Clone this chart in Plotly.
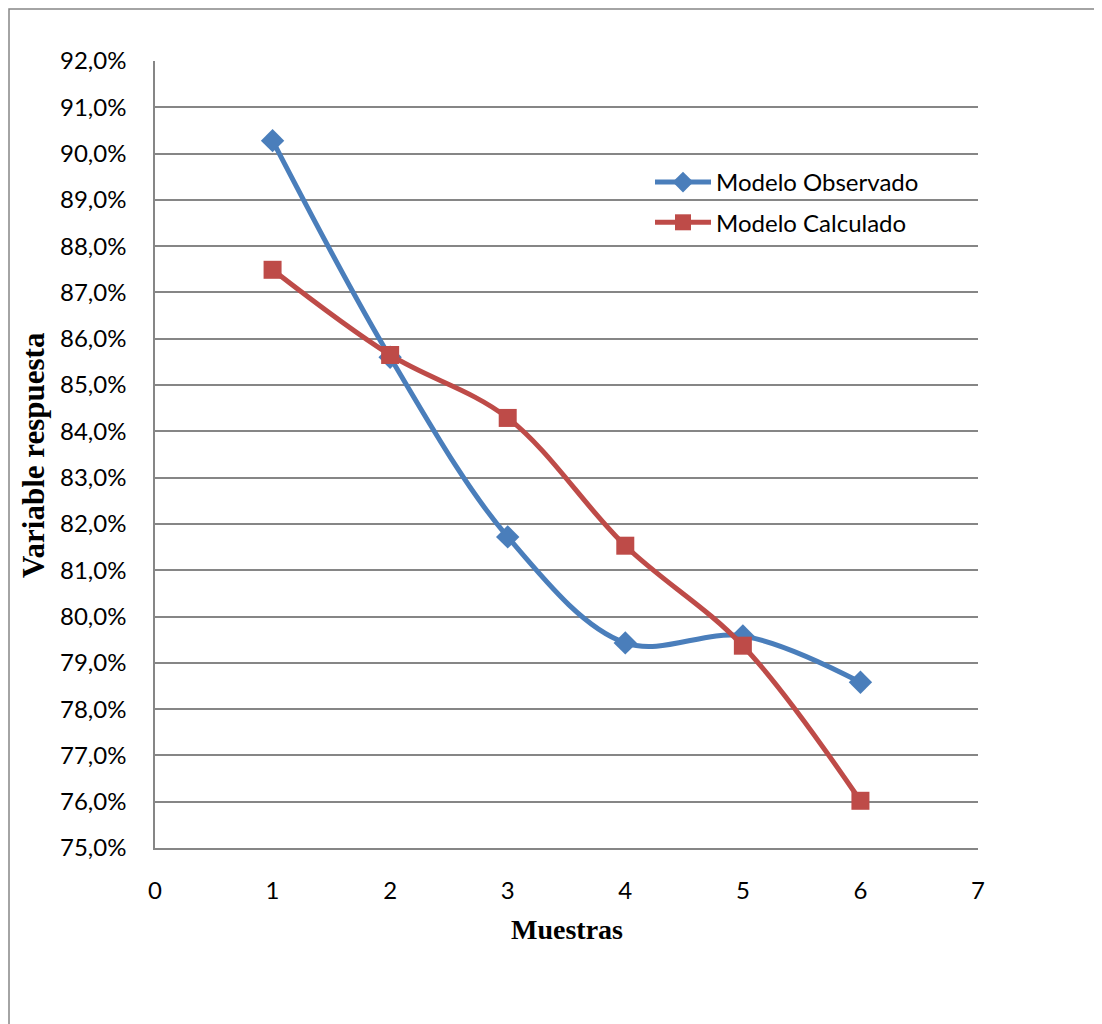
import plotly.graph_objects as go

muestras = [1, 2, 3, 4, 5, 6]
observado = [0.9028, 0.8560, 0.8172, 0.7943, 0.7958, 0.7858]
calculado = [0.8749, 0.8565, 0.8429, 0.8153, 0.7937, 0.7602]
y_ticks = [0.75 + 0.01 * i for i in range(18)]

# page has an 8px body margin; work in figure coordinates
OFF = 8
W, H = 1102 - OFF, 1024 - OFF
L, R, T, B = 155 - OFF, 978 - OFF, 61 - OFF, 848 - OFF

fig = go.Figure()
fig.add_trace(go.Scatter(
    x=muestras, y=observado, name="Modelo Observado", legendgroup="a",
    mode="lines+markers", line=dict(color="#4A7EBB", width=5, shape="spline", smoothing=1.0),
    marker=dict(symbol="diamond", size=18, color="#4A7EBB")))
fig.add_trace(go.Scatter(
    x=muestras, y=calculado, name="Modelo Calculado", legendgroup="b",
    mode="lines+markers", line=dict(color="#BE4B48", width=5, shape="spline", smoothing=1.0),
    marker=dict(symbol="square", size=18, color="#BE4B48")))

pw, ph = R - L, B - T
def px(x):
    return (x - OFF - L) / pw
def py(y):
    return (B - (y - OFF)) / ph

fig.update_layout(
    width=W, height=H,
    margin=dict(l=L, r=W - R, t=T, b=H - B),
    paper_bgcolor="white", plot_bgcolor="white",
    separators=",.",
    font=dict(family="Lato, Open Sans, sans-serif", size=24, color="black"),
    showlegend=True,
    legend=dict(x=px(650), y=py(160), xanchor="left", yanchor="top",
                font=dict(family="Lato, Open Sans, sans-serif", size=24),
                bgcolor="rgba(0,0,0,0)", traceorder="grouped", tracegroupgap=6, itemwidth=56),
    xaxis=dict(range=[0, 7], dtick=1, tick0=0, showgrid=False, zeroline=False,
               showline=True, linecolor="#868686", linewidth=1.5,
               ticks="", tickfont=dict(size=24), ticklabelstandoff=20),
    yaxis=dict(range=[0.75, 0.92], tickvals=y_ticks, tickformat=".1%",
               showgrid=True, gridcolor="#868686", gridwidth=1.5, zeroline=False,
               showline=True, linecolor="#868686", linewidth=1.5,
               ticks="", tickfont=dict(size=24), ticklabelstandoff=22),
    annotations=[
        dict(text="<b>Variable respuesta</b>", xref="paper", yref="paper",
             x=px(33), y=py(455), xanchor="center", yanchor="middle", textangle=-90,
             showarrow=False, font=dict(family="Liberation Serif, Times New Roman, serif", size=31)),
        dict(text="<b>Muestras</b>", xref="paper", yref="paper",
             x=px(567), y=py(929), xanchor="center", yanchor="middle",
             showarrow=False, font=dict(family="Liberation Serif, Times New Roman, serif", size=28)),
    ],
    shapes=[dict(type="rect", xref="paper", yref="paper",
                 x0=px(9), x1=px(1140), y0=py(1060), y1=py(9),
                 line=dict(color="#868686", width=1.5), layer="below")],
)

fig.write_html("out.html")
